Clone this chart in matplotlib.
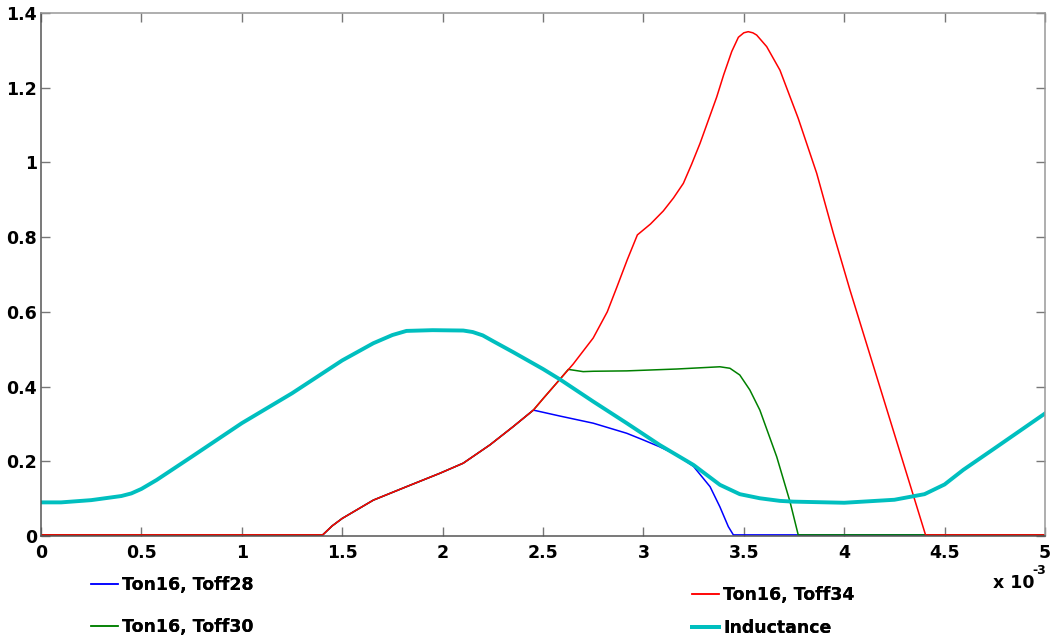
import numpy as np
import matplotlib
matplotlib.use('Agg')
import matplotlib.pyplot as plt
from matplotlib.lines import Line2D
from matplotlib.font_manager import FontProperties

# time in ms (axis is seconds, shown as x 10^-3)
t_ind = [0, 0.1, 0.25, 0.4, 0.45, 0.5, 0.576, 0.75, 1.0, 1.25, 1.5, 1.655, 1.75, 1.82,
         1.95, 2.103, 2.15, 2.2, 2.25, 2.352, 2.5, 2.585, 2.75, 2.917, 3.08, 3.25,
         3.381, 3.48, 3.58, 3.68, 3.746, 4.0, 4.25, 4.4, 4.5, 4.593, 4.75, 5.0]
v_ind = [0.090, 0.090, 0.096, 0.107, 0.114, 0.126, 0.150, 0.212, 0.302, 0.382, 0.470,
         0.516, 0.538, 0.549, 0.551, 0.550, 0.546, 0.537, 0.522, 0.492, 0.447, 0.419,
         0.360, 0.302, 0.244, 0.190, 0.137, 0.112, 0.101, 0.094, 0.092, 0.089, 0.097,
         0.112, 0.138, 0.177, 0.235, 0.328]

t_red = [0, 1.403, 1.45, 1.5, 1.655, 1.82, 1.987, 2.103, 2.236, 2.352, 2.452, 2.501,
         2.585, 2.65, 2.75, 2.82, 2.867, 2.92, 2.970, 3.035, 3.099, 3.15, 3.199, 3.24,
         3.282, 3.365, 3.40, 3.44, 3.473, 3.50, 3.522, 3.545, 3.564, 3.614, 3.68,
         3.771, 3.863, 3.946, 4.029, 4.405, 5.0]
v_red = [0.003, 0.003, 0.027, 0.047, 0.096, 0.132, 0.168, 0.195, 0.244, 0.293, 0.337,
         0.368, 0.420, 0.460, 0.530, 0.600, 0.665, 0.740, 0.806, 0.835, 0.870, 0.905,
         0.944, 0.995, 1.051, 1.175, 1.235, 1.297, 1.335, 1.347, 1.350, 1.347, 1.341,
         1.310, 1.247, 1.118, 0.971, 0.810, 0.658, 0.003, 0.003]

t_blue = [0, 1.403, 1.45, 1.5, 1.655, 1.82, 1.987, 2.103, 2.236, 2.352, 2.452, 2.585,
          2.75, 2.917, 3.0, 3.08, 3.166, 3.25, 3.332, 3.381, 3.423, 3.448, 5.0]
v_blue = [0.003, 0.003, 0.027, 0.047, 0.096, 0.132, 0.168, 0.195, 0.244, 0.293, 0.337,
          0.321, 0.302, 0.275, 0.257, 0.239, 0.217, 0.186, 0.132, 0.078, 0.025, 0.003,
          0.003]

t_green = [0, 1.403, 1.45, 1.5, 1.655, 1.82, 1.987, 2.103, 2.236, 2.352, 2.452, 2.501,
           2.585, 2.626, 2.7, 2.75, 2.917, 3.166, 3.381, 3.431, 3.48, 3.53, 3.58, 3.664,
           3.73, 3.771, 5.0]
v_green = [0.003, 0.003, 0.027, 0.047, 0.096, 0.132, 0.168, 0.195, 0.244, 0.293, 0.337,
           0.368, 0.420, 0.446, 0.440, 0.441, 0.442, 0.447, 0.453, 0.449, 0.431, 0.391,
           0.337, 0.212, 0.092, 0.003, 0.003]

xticks_ms = [0, 0.5, 1, 1.5, 2, 2.5, 3, 3.5, 4, 4.5, 5]
xtick_labels = ['0', '0.5', '1', '1.5', '2', '2.5', '3', '3.5', '4', '4.5', '5']
yticks = [0, 0.2, 0.4, 0.6, 0.8, 1.0, 1.2, 1.4]
ytick_labels = ['0', '0.2', '0.4', '0.6', '0.8', '1', '1.2', '1.4']

labels = ['Ton16, Toff28', 'Ton16, Toff30', 'Ton16, Toff34', 'Inductance']
colors = ['#0000ff', '#008000', '#ff0000', '#00bfbf']
widths = [1.1, 1.1, 1.1, 2.8]

W, H = 1052, 641
fig = plt.figure(figsize=(W / 100, H / 100), dpi=100)
ax = fig.add_axes([41 / W, (H - 536) / H, (1045 - 41) / W, (536 - 13) / H])

ms = 1e-3
series = [(t_blue, v_blue), (t_green, v_green), (t_red, v_red), (t_ind, v_ind)]
for (t, v), c, lw in zip(series, colors, widths):
    ax.plot(np.array(t) * ms, v, color=c, lw=lw, solid_joinstyle='round')

ax.set_xlim(0, 5 * ms)
ax.set_ylim(0, 1.4)
ax.set_xticks(np.array(xticks_ms) * ms)
ax.set_xticklabels(xtick_labels)
ax.set_yticks(yticks)
ax.set_yticklabels(ytick_labels)

tf = dict(family='DejaVu Sans', weight='bold', size=12.5)
for lab in ax.get_xticklabels() + ax.get_yticklabels():
    lab.set_fontproperties(FontProperties(**tf))

ax.tick_params(direction='in', length=6.5, width=1.0, top=True, right=True,
               colors='#777777', labelcolor='black')
ax.tick_params(axis='x', pad=6)
ax.tick_params(axis='y', pad=3)
for side in ['left', 'bottom']:
    ax.spines[side].set_color('#555555')
    ax.spines[side].set_linewidth(1.1)
for side in ['top', 'right']:
    ax.spines[side].set_color('#999999')
    ax.spines[side].set_linewidth(1.1)

# exponent label
fig.text(993 / W, (H - 583) / H, 'x 10', ha='left', va='center', **tf)
fig.text(1032 / W, (H - 571) / H, '-3', ha='left', va='center',
         family='DejaVu Sans', weight='bold', size=9)

# legend entries, placed like the original
spots = [(91, 585), (91, 627), (692, 595), (692, 628)]
for lab, c, lw, (px, py) in zip(labels, colors, widths, spots):
    h = Line2D([], [], color=c, lw=lw)
    lg = fig.legend([h], [lab], loc='center left',
                    bbox_to_anchor=(px / W, (H - py) / H), frameon=False,
                    borderpad=0, borderaxespad=0, handlelength=1.55,
                    handletextpad=0.25,
                    prop=dict(family='DejaVu Sans', weight='bold', size=12.5))
    fig.add_artist(lg)

fig.savefig('out.png', dpi=100)
